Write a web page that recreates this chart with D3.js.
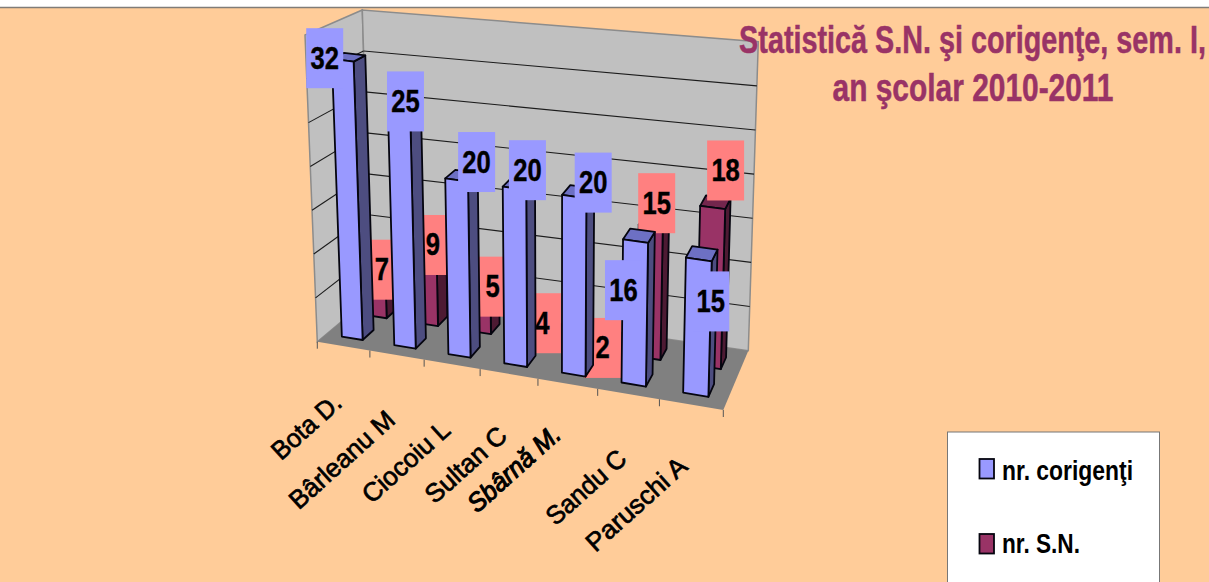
<!DOCTYPE html>
<html><head><meta charset="utf-8">
<script src="https://cdn.jsdelivr.net/npm/d3@7"></script>
<style>html,body{margin:0;padding:0;background:#fff;overflow:hidden}svg{display:block}text{font-family:"Liberation Sans",Arial,sans-serif}</style>
</head><body><svg id="c" width="1209" height="582"></svg>
<script>
const titleLines = ["Statistică S.N. şi corigenţe, sem. I,", "an şcolar 2010-2011"];
const categories = ["Bota D.", "Bârleanu M", "Ciocoiu L", "Sultan C", "Sbârnă M.", "Sandu C", "Paruschi A"];
const corigenti = [32, 25, 20, 20, 20, 16, 15];
const sn = [7, 9, 5, 4, 2, 15, 18];
const valueTicks = [0, 5, 10, 15, 20, 25, 30, 35];
const seriesNames = ["nr. corigenţi", "nr. S.N."];

// layout: where each hand-placed data label sits relative to the top of its bar
const corigLabelShift = [[-18,-2],[6,-27],[20,-18],[13,-18],[19,-14],[-12,49],[12,42]];
const snLabelShift = [[7,12],[7,-3],[13,-3],[8,17],[12,16],[6,-23],[13,-37]];
const catLabelDx = [0,0,0,0,-5,0,-2];
const catLabelDy = [59,67,68,64,53,67,64];
const catLabelLen = [84,132,108,100,115,98,126];

// box corners in screen px: [x,y] indexed front/back, left/right, bottom/top
const C = {
  flb:[317.3,341.7], frb:[723.3,410], blb:[371,296.7], brb:[748.3,350.7],
  flt:[305,35], frt:[731.7,91.7], blt:[362.3,10], brt:[758.3,41.7]
};
const R = 1.12;
const persp = u => u / (u + R * (1 - u));
const mix = (a, b, t) => [a[0] + (b[0]-a[0])*t, a[1] + (b[1]-a[1])*t];
function project(u, v, w) {
  const s = persp(u);
  const fb = mix(C.flb, C.frb, s), ft = mix(C.flt, C.frt, s);
  const bb = mix(C.blb, C.brb, s), bt = mix(C.blt, C.brt, s);
  return mix(mix(fb, ft, v), mix(bb, bt, v), w);
}
const xBand = d3.scaleBand().domain(categories).range([0,1]).paddingInner(0.6).paddingOuter(0.3);
const xStep = d3.scalePoint().domain(d3.range(categories.length + 1)).range([0,1]);
const yVal = d3.scaleLinear().domain([0,35]).range([0,1]);
const rowFront = {w0:0.17, w1:0.385}, rowBack = {w0:0.64, w1:0.84};
const poly = d3.line().curve(d3.curveLinearClosed);

const svg = d3.select("#c");
svg.append("rect").attr("width",1209).attr("height",582).attr("fill","#fff");
svg.append("rect").attr("x",-2).attr("y",7.5).attr("width",1213).attr("height",580).attr("fill","#FFCC99").attr("stroke","#807c78").attr("stroke-width",1.5);

// walls + floor
const g = svg.append("g");
const wall = pts => g.append("path").attr("d",poly(pts));
wall([C.flb,C.blb,C.blt,C.flt]).attr("fill","#C0C0C0").attr("stroke","#8c8c8c").attr("stroke-width",1.5);
wall([C.blb,C.brb,C.brt,C.blt]).attr("fill","#C0C0C0").attr("stroke","#8c8c8c").attr("stroke-width",1.5);
wall([C.flb,C.frb,C.brb,C.blb]).attr("fill","#808080");

// gridlines
const gridTicks = valueTicks.filter(t => t>0 && t<35);
g.selectAll(".gb").data(gridTicks).join("path").attr("class","gb")
  .attr("d",t => d3.line()([project(0,yVal(t),1),project(1,yVal(t),1)])).attr("stroke","#1c1c1c").attr("stroke-width",1.1).attr("fill","none");
g.selectAll(".gl").data(gridTicks).join("path").attr("class","gl")
  .attr("d",t => d3.line()([project(0,yVal(t),0),project(0,yVal(t),1)])).attr("stroke","#1c1c1c").attr("stroke-width",1.1).attr("fill","none");
// category ticks
g.selectAll(".tk").data(xStep.domain()).join("path").attr("class","tk")
  .attr("d",i => { const p = project(xStep(i),0,0); return d3.line()([p,[p[0],p[1]+7]]); })
  .attr("stroke","#555").attr("stroke-width",1);

function bars(cls, values, row, cols) {
  const bg = svg.append("g").attr("class",cls);
  categories.forEach((c,i) => {
    const u0 = xBand(c), u1 = u0 + xBand.bandwidth(), v = yVal(values[i]);
    const a = bg.append("g").attr("stroke","#05050f").attr("stroke-width",1.8).attr("stroke-linejoin","round");
    a.append("path").attr("fill",cols.side).attr("d",poly([project(u1,0,row.w0),project(u1,0,row.w1),project(u1,v,row.w1),project(u1,v,row.w0)]));
    a.append("path").attr("fill",cols.top).attr("d",poly([project(u0,v,row.w0),project(u1,v,row.w0),project(u1,v,row.w1),project(u0,v,row.w1)]));
    a.append("path").attr("fill",cols.front).attr("d",poly([project(u0,0,row.w0),project(u1,0,row.w0),project(u1,v,row.w0),project(u0,v,row.w0)]));
  });
}
function labels(values, row, fill, shift) {
  const lg = svg.append("g");
  categories.forEach((c,i) => {
    const m = xBand(c) + xBand.bandwidth()/2;
    const p = project(m, yVal(values[i]), row.w0);
    const cx = p[0]+shift[i][0], cy = p[1]+shift[i][1];
    lg.append("rect").attr("x",cx-18.5).attr("y",cy-30).attr("width",37).attr("height",60).attr("fill",fill);
    lg.append("text").attr("transform",`translate(${cx},${cy+10.5}) scale(.8,1)`)
      .attr("text-anchor","middle").attr("font-size",32).attr("font-weight","bold").attr("fill","#000").attr("stroke","#000").attr("stroke-width",0.4).text(values[i]);
  });
}
bars("sn", sn, rowBack, {front:"#993366", side:"#4d1a33", top:"#73264d"});
labels(sn, rowBack, "#FF8080", snLabelShift);
bars("cor", corigenti, rowFront, {front:"#9999FF", side:"#4d4d80", top:"#6d70c4"});
labels(corigenti, rowFront, "#9999FF", corigLabelShift);

// category labels
categories.forEach((c,i) => {
  const p = project(xBand(c)+xBand.bandwidth()/2,0,0);
  svg.append("text").attr("transform",`translate(${p[0]+catLabelDx[i]},${p[1]+catLabelDy[i]}) rotate(-42)`)
    .attr("text-anchor","end").attr("font-size",26).attr("fill","#000").attr("stroke","#000")
    .attr("stroke-width", i===4 ? 1.1 : 0.7).attr("font-style", i===4 ? "italic" : "normal")
    .attr("textLength",catLabelLen[i]).attr("lengthAdjust","spacingAndGlyphs").text(c);
});

// title: squeezed with a transform so the drawn width is the reference's
const tg = svg.append("g").attr("fill","#993366").attr("stroke","#993366").attr("stroke-width",0.5).attr("font-weight","bold").attr("font-size",38).attr("text-anchor","middle");
const titleX = [972.5,973], titleY = [53,101], titleW = [467,281];
titleLines.forEach((t,i) => {
  const el = tg.append("text").text(t);
  const sx = titleW[i] / el.node().getComputedTextLength();
  el.attr("transform",`translate(${titleX[i]},${titleY[i]}) scale(${sx},1)`);
});

// legend
const lg = svg.append("g");
lg.append("rect").attr("x",947.5).attr("y",432).attr("width",212).attr("height",170).attr("fill","#fff").attr("stroke","#777").attr("stroke-width",1);
const legCols = ["#9999FF","#993366"], legY = [459,534], legBase = [480,553], legLen = [131,78];
seriesNames.forEach((n,i) => {
  lg.append("rect").attr("x",979.5).attr("y",legY[i]).attr("width",14.5).attr("height",19.5).attr("fill",legCols[i]).attr("stroke","#05050f").attr("stroke-width",1.8);
  lg.append("text").attr("x",1002).attr("y",legBase[i]).attr("font-size",27).attr("font-weight","bold").attr("textLength",legLen[i]).attr("lengthAdjust","spacingAndGlyphs").attr("fill","#000").text(n);
});
</script></body></html>
